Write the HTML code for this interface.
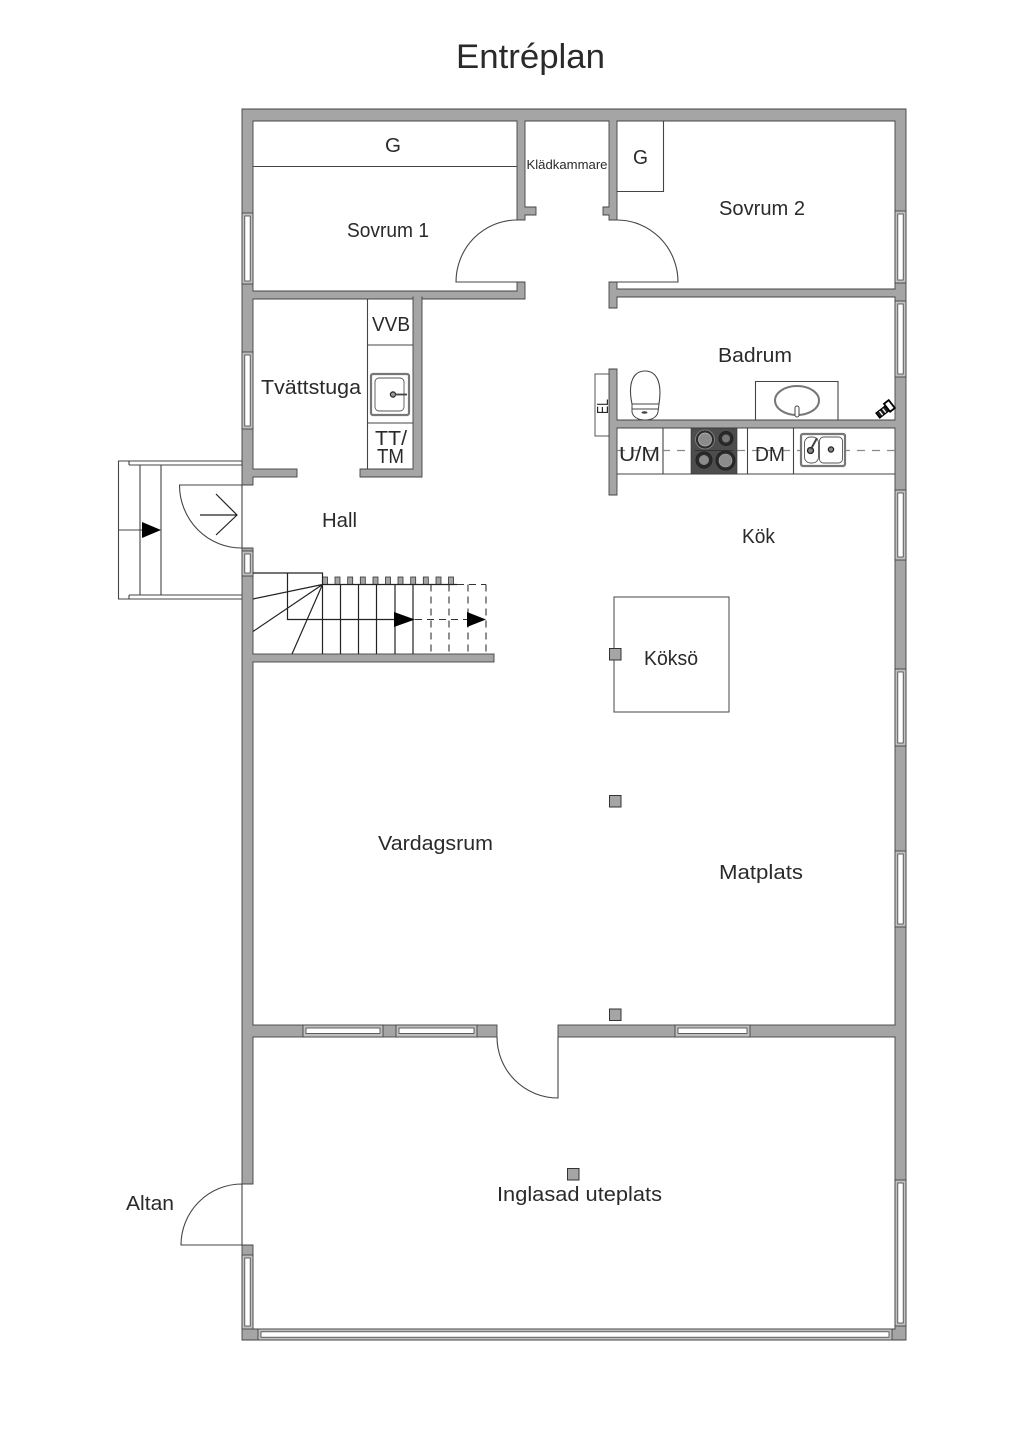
<!DOCTYPE html>
<html><head><meta charset="utf-8"><style>
html,body{margin:0;padding:0;background:#fff}
svg{display:block}
text{font-family:"Liberation Sans",sans-serif;fill:#2a2a2a}
.w{fill:#a5a5a5;stroke:#444;stroke-width:.9}
.p{fill:#a5a5a5;stroke:none}
.l{fill:none;stroke:#444;stroke-width:1.1}
.k{fill:none;stroke:#222;stroke-width:1.2}
.d{fill:none;stroke:#333;stroke-width:1.1;stroke-dasharray:7 5}
.a{fill:#000;stroke:none}
.wo{fill:#c0c0c0;stroke:#444;stroke-width:.9}
.wi{fill:#fff;stroke:#444;stroke-width:.8}
</style></head><body>
<svg width="1024" height="1448" viewBox="0 0 1024 1448" xmlns="http://www.w3.org/2000/svg">
<rect width="1024" height="1448" fill="#fff"/>

<!-- outer walls -->
<path class="w" d="M242 109H906V1340H242V1245H253V1329H895V121H253V1184H242V548H253V485H242Z"/>
<rect x="242.600" y="485.500" width="11.400" height="62" fill="#fff"/>
<!-- interior walls -->
<path class="w" d="M253 291H517V282H525V299H253Z"/>
<path class="w" d="M517 121H525V207H536V215H525V220H517Z"/>
<path class="w" d="M609 121H617V220H609V215H603V207H609Z"/>
<path class="w" d="M609 282H617V289H895V297H617V308H609Z"/>
<path class="w" d="M413 297H422V477H360V469H413Z"/>
<rect class="w" x="253" y="469" width="44" height="8"/>
<path class="w" d="M609 369H617V420H895V428H617V495H609Z"/>
<rect class="w" x="253" y="654" width="241" height="8"/>
<rect class="w" x="253" y="1025" width="244" height="12"/>
<rect class="w" x="558" y="1025" width="337" height="12"/>
<!-- junction patches -->
<g class="p">
<rect x="251" y="291.500" width="4" height="7"/>
<rect x="251" y="469.500" width="4" height="7"/>
<rect x="251" y="654.500" width="4" height="7"/>
<rect x="251" y="1025.500" width="4" height="11"/>
<rect x="893" y="289.500" width="4" height="7"/>
<rect x="893" y="420.500" width="4" height="7"/>
<rect x="893" y="1025.500" width="4" height="11"/>
<rect x="517.500" y="119" width="7" height="4"/>
<rect x="609.500" y="119" width="7" height="4"/>
<rect x="413.500" y="295" width="8" height="5"/>
</g>

<!-- windows left -->
<g>
<rect class="wo" x="242" y="213" width="11" height="71"/><rect class="wi" x="244.800" y="216" width="5.400" height="65"/>
<rect class="wo" x="242" y="352" width="11" height="77"/><rect class="wi" x="244.800" y="355" width="5.400" height="71"/>
<rect class="wo" x="242" y="551" width="11" height="25"/><rect class="wi" x="244.800" y="554" width="5.400" height="19"/>
<rect class="wo" x="242" y="1255" width="11" height="74"/><rect class="wi" x="244.800" y="1258" width="5.400" height="68"/>
</g>
<!-- windows right -->
<g>
<rect class="wo" x="895" y="211" width="11" height="72"/><rect class="wi" x="897.800" y="214" width="5.400" height="66"/>
<rect class="wo" x="895" y="301" width="11" height="76"/><rect class="wi" x="897.800" y="304" width="5.400" height="70"/>
<rect class="wo" x="895" y="490" width="11" height="70"/><rect class="wi" x="897.800" y="493" width="5.400" height="64"/>
<rect class="wo" x="895" y="669" width="11" height="77"/><rect class="wi" x="897.800" y="672" width="5.400" height="71"/>
<rect class="wo" x="895" y="851" width="11" height="76"/><rect class="wi" x="897.800" y="854" width="5.400" height="70"/>
<rect class="wo" x="895" y="1180" width="11" height="146"/><rect class="wi" x="897.800" y="1183" width="5.400" height="140"/>
</g>
<!-- windows horizontal -->
<g>
<rect class="wo" x="258" y="1329" width="634" height="11"/><rect class="wi" x="261" y="1331.800" width="628" height="5.400"/>
<rect class="wo" x="303" y="1025" width="80" height="12"/><rect class="wi" x="306" y="1028" width="74" height="5.400"/>
<rect class="wo" x="396" y="1025" width="81" height="12"/><rect class="wi" x="399" y="1028" width="75" height="5.400"/>
<rect class="wo" x="675" y="1025" width="75" height="12"/><rect class="wi" x="678" y="1028" width="69" height="5.400"/>
</g>

<!-- doors -->
<path class="l" d="M517 220A61 62 0 0 0 456 282H517"/>
<path class="l" d="M617 220A61 62 0 0 1 678 282H617"/>
<path class="l" d="M497 1037A61 61 0 0 0 558 1098V1037"/>
<path class="l" d="M242 1184A61 61 0 0 0 181 1245H242V1184"/>
<path class="l" d="M242 548A62 63 0 0 1 179.500 485H242V548"/>
<path class="k" d="M200 515H237M216 494L237 515L216 535"/>

<!-- entry steps -->
<path class="l" d="M129 461H118.500V599H129"/>
<path class="l" d="M129 461H242M129 465H242V461M129 461V465M129 599H242M129 595H242M129 595V599"/>
<path class="l" d="M140 465V595M161 465V595M118.500 530H142"/>
<path class="a" d="M142 522L161 530L142 538Z"/>

<!-- stairs -->
<g fill="#a5a5a5" stroke="#333" stroke-width=".8">
<rect x="322.500" y="577" width="5" height="7.500"/><rect x="335" y="577" width="5" height="7.500"/><rect x="347.700" y="577" width="5" height="7.500"/><rect x="360.300" y="577" width="5" height="7.500"/><rect x="373" y="577" width="5" height="7.500"/><rect x="385.500" y="577" width="5" height="7.500"/><rect x="398" y="577" width="5" height="7.500"/><rect x="410.700" y="577" width="5" height="7.500"/><rect x="423.300" y="577" width="5" height="7.500"/><rect x="436" y="577" width="5" height="7.500"/><rect x="448.500" y="577" width="5" height="7.500"/>
</g>
<path class="k" d="M253 573H322.500V654M287.500 573V619.500H405M322.500 584.500H457M340.500 584.500V654M358.500 584.500V654M376.500 584.500V654M395 584.500V654M413 584.500V654M322.500 584.500L253 599M322.500 584.500L253 631.500M322.500 584.500L292 654"/>
<path class="d" d="M431 584.500V654M449 584.500V654M468 584.500V654M486 584.500V654M457 584.500H486M415 619.500H486"/>
<path class="a" d="M394 612L415 619.500L394 627Z"/>
<path class="a" d="M467 612L486 619.500L467 627Z"/>

<!-- closets -->
<path class="l" d="M253 166.500H517"/>
<path class="l" d="M617 191.500H663.500V121"/>
<path class="l" d="M367.500 299V469M367.500 345H413M367.500 423H413"/>

<!-- laundry sink -->
<rect x="371" y="374" width="38" height="41" rx="2" fill="#fff" stroke="#777" stroke-width="2.200"/>
<rect x="375" y="378" width="29" height="33" rx="4" fill="#fff" stroke="#555" stroke-width=".9"/>
<circle cx="393" cy="394.500" r="2.600" fill="#999" stroke="#222" stroke-width="1.200"/>
<path d="M395 394.500H407" stroke="#444" stroke-width="1.800"/>

<!-- EL -->
<rect x="595" y="374" width="14" height="62" fill="#fff" stroke="#444" stroke-width=".9"/>

<!-- toilet -->
<path class="l" d="M632 404C628 385 632 371 645 371C658 371 662 385 659 404"/>
<path d="M632 404H659L658 412C657 417 652 420 645 420C638 420 633 417 632 412Z" fill="#fff" stroke="#444" stroke-width="1"/>
<path class="l" d="M632.500 409H658.500"/>
<ellipse cx="644.500" cy="412.500" rx="3" ry="1.200" fill="#444"/>

<!-- basin -->
<path class="l" d="M755.500 420V381.500H838V420"/>
<ellipse cx="797" cy="400.500" rx="22" ry="14.500" fill="#fff" stroke="#777" stroke-width="2"/>
<rect x="795" y="406" width="4" height="11" rx="2" fill="#fff" stroke="#444" stroke-width="1"/>

<!-- shower fitting -->
<g transform="rotate(-38 885 410)">
<rect x="876" y="407" width="17" height="6" fill="#222" stroke="#000" stroke-width="1.400"/>
<path d="M880 407.500V412.500M884 407.500V412.500" stroke="#fff" stroke-width="1.300"/>
<rect x="888" y="404.500" width="6" height="10" fill="#fff" stroke="#000" stroke-width="1.800"/>
</g>

<!-- kitchen counter -->
<path class="l" d="M617 474H895"/>
<path class="l" d="M663 428V474M747.500 428V474M793.500 428V474"/>
<path d="M617 450.500H895" stroke="#8a8a8a" stroke-width="1.200" stroke-dasharray="8 7" fill="none"/>

<!-- hob -->
<rect x="691" y="428" width="46" height="46" fill="#4d4d4d" stroke="#333" stroke-width=".6"/>
<path d="M695 450.500H733" stroke="#2a2a2a" stroke-width=".8"/>
<g stroke="#222" fill="#8b8b8b">
<circle cx="705" cy="439.500" r="9.500" fill="#2d2d2d" stroke="#888" stroke-width=".8"/><circle cx="705" cy="439.500" r="6.500" stroke="#bbb" stroke-width=".7"/>
<circle cx="726" cy="438.500" r="7" fill="#2a2a2a" stroke="#222"/><circle cx="726" cy="438.500" r="4" stroke="none" fill="#777"/>
<circle cx="704" cy="460" r="8" fill="#2a2a2a" stroke="#222"/><circle cx="704" cy="460" r="5" stroke="none"/>
<circle cx="725.500" cy="460.500" r="9.500" fill="#2a2a2a" stroke="#222"/><circle cx="725.500" cy="460.500" r="6.500" stroke="#aaa" stroke-width=".6"/>
</g>

<!-- kitchen sink -->
<rect x="801" y="434" width="44" height="32" rx="2" fill="#fff" stroke="#777" stroke-width="2.200"/>
<rect x="804.500" y="437" width="14" height="26" rx="6" fill="#fff" stroke="#555" stroke-width=".9"/>
<rect x="819.500" y="437" width="23" height="26" rx="4" fill="#fff" stroke="#555" stroke-width=".9"/>
<circle cx="810.500" cy="450.500" r="3" fill="#888" stroke="#222" stroke-width="1.300"/>
<circle cx="831" cy="449.500" r="2.600" fill="#888" stroke="#222" stroke-width="1.300"/>
<path d="M811 449L817 438" stroke="#444" stroke-width="2"/>

<!-- island & columns -->
<rect x="614" y="597" width="115" height="115" fill="#fff" stroke="#444" stroke-width="1"/>
<g fill="#a5a5a5" stroke="#333" stroke-width="1">
<rect x="609.500" y="648.500" width="11.500" height="11.500"/>
<rect x="609.500" y="795.500" width="11.500" height="11.500"/>
<rect x="609.500" y="1009" width="11.500" height="11.500"/>
<rect x="567.500" y="1168.500" width="11.500" height="11.500"/>
</g>

<!-- labels -->
<text x="456" y="68" font-size="34" textLength="149" lengthAdjust="spacingAndGlyphs">Entréplan</text>
<text x="385" y="152" font-size="20" textLength="16" lengthAdjust="spacingAndGlyphs">G</text>
<text x="347" y="237" font-size="20" textLength="82" lengthAdjust="spacingAndGlyphs">Sovrum 1</text>
<text x="526.500" y="169" font-size="12.500" textLength="81" lengthAdjust="spacingAndGlyphs">Klädkammare</text>
<text x="633" y="164" font-size="20" textLength="15" lengthAdjust="spacingAndGlyphs">G</text>
<text x="719" y="215" font-size="20" textLength="86" lengthAdjust="spacingAndGlyphs">Sovrum 2</text>
<text x="372" y="331" font-size="20" textLength="38" lengthAdjust="spacingAndGlyphs">VVB</text>
<text x="261" y="394" font-size="20" textLength="100" lengthAdjust="spacingAndGlyphs">Tvättstuga</text>
<text x="375" y="445" font-size="20" textLength="32" lengthAdjust="spacingAndGlyphs">TT/</text>
<text x="377" y="463" font-size="20" textLength="27" lengthAdjust="spacingAndGlyphs">TM</text>
<text x="718" y="362" font-size="20" textLength="74" lengthAdjust="spacingAndGlyphs">Badrum</text>
<text x="619" y="461" font-size="20" textLength="41" lengthAdjust="spacingAndGlyphs">U/M</text>
<text x="755" y="461" font-size="20" textLength="30" lengthAdjust="spacingAndGlyphs">DM</text>
<text transform="translate(608 414) rotate(-90)" font-size="16" textLength="15" lengthAdjust="spacingAndGlyphs">EL</text>
<text x="322" y="527" font-size="20" textLength="35" lengthAdjust="spacingAndGlyphs">Hall</text>
<text x="742" y="543" font-size="20" textLength="33" lengthAdjust="spacingAndGlyphs">Kök</text>
<text x="644" y="665" font-size="20" textLength="54" lengthAdjust="spacingAndGlyphs">Köksö</text>
<text x="378" y="850" font-size="20" textLength="115" lengthAdjust="spacingAndGlyphs">Vardagsrum</text>
<text x="719" y="879" font-size="20" textLength="84" lengthAdjust="spacingAndGlyphs">Matplats</text>
<text x="126" y="1210" font-size="20" textLength="48" lengthAdjust="spacingAndGlyphs">Altan</text>
<text x="497" y="1201" font-size="20" textLength="165" lengthAdjust="spacingAndGlyphs">Inglasad uteplats</text>
</svg>
</body></html>
